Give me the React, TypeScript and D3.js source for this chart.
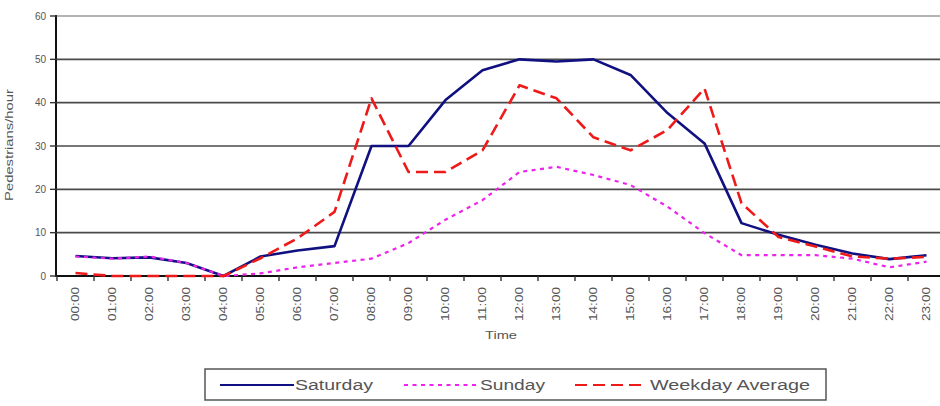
import React from "react";
import * as d3 from "d3";

// Hourly categories
const hours: string[] = [
  "00:00", "01:00", "02:00", "03:00", "04:00", "05:00", "06:00", "07:00",
  "08:00", "09:00", "10:00", "11:00", "12:00", "13:00", "14:00", "15:00",
  "16:00", "17:00", "18:00", "19:00", "20:00", "21:00", "22:00", "23:00",
];

// Pedestrians per hour
const saturday: number[] = [
  4.6, 4.1, 4.3, 3, 0, 4.5, 5.9, 6.9, 30, 30, 40.6, 47.5,
  50, 49.5, 50, 46.4, 37.6, 30.6, 12.2, 9.5, 7.2, 5.2, 3.9, 4.8,
];
const sunday: number[] = [
  4.5, 4, 4.5, 3, 0, 0.6, 2, 3, 4, 7.6, 13, 17.5,
  24, 25.2, 23.3, 21, 16, 9.9, 4.8, 4.8, 4.8, 4, 2, 3.3,
];
const weekdayAverage: number[] = [
  0.7, 0, 0, 0, 0, 4.1, 8.7, 14.8, 41, 24, 24, 29,
  44, 41, 32, 29, 33.7, 43.3, 16.8, 9, 6.8, 4.5, 4, 4.4,
];

const yTicks: number[] = [0, 10, 20, 30, 40, 50, 60];

const seriesNames: string[] = ["Saturday", "Sunday", "Weekday Average"];

const W = 940;
const H = 406;
const plotLeft = 57;
const plotRight = 945;
const plotTop = 16;
const plotBottom = 276;

const font = "'Liberation Sans', Arial, sans-serif";

export default function App() {
  const x = d3.scaleBand<string>().domain(hours).range([plotLeft, plotRight]).padding(0);
  const y = d3.scaleLinear().domain([0, 60]).range([plotBottom, plotTop]);
  const cx = (h: string) => (x(h) as number) + x.bandwidth() / 2;

  const line = d3
    .line<number>()
    .x((_, i) => cx(hours[i]))
    .y((d) => y(d));

  const series = [
    { name: seriesNames[0], values: saturday, color: "#101080", width: 2.6, dash: "none" },
    { name: seriesNames[1], values: sunday, color: "#ee22ee", width: 2.2, dash: "4 4.5" },
    { name: seriesNames[2], values: weekdayAverage, color: "#ee1a1a", width: 2.6, dash: "12 6" },
  ];

  const boundaries = hours.map((h) => x(h) as number).concat([plotRight]);

  const legendItems = [
    { x1: 220, x2: 294, tx: 295, tlen: 78 },
    { x1: 404, x2: 477, tx: 480, tlen: 65 },
    { x1: 575, x2: 646, tx: 650, tlen: 160 },
  ];

  return (
    <svg
      width={W}
      height={H}
      viewBox={`0 0 ${W} ${H}`}
      style={{ position: "absolute", left: 0, top: 0, background: "#fff" }}
    >
      <rect x={0} y={0} width={W} height={H} fill="#fff" />

      {/* gridlines */}
      {yTicks.slice(1, -1).map((t) => (
        <line key={t} x1={plotLeft} x2={W} y1={y(t)} y2={y(t)} stroke="#4a4a4a" strokeWidth={1.6} />
      ))}
      <line x1={plotLeft} x2={W} y1={y(60)} y2={y(60)} stroke="#b4b4b4" strokeWidth={2.2} />

      {/* y axis */}
      <line x1={plotLeft - 1} x2={plotLeft - 1} y1={plotTop - 1} y2={plotBottom + 1} stroke="#111" strokeWidth={2} />
      {yTicks.map((t) => (
        <g key={t}>
          <line x1={plotLeft - 7} x2={plotLeft} y1={y(t)} y2={y(t)} stroke="#333" strokeWidth={1.4} />
          <text
            x={46}
            y={y(t) + 3.5}
            textAnchor="end"
            fontFamily={font}
            fontSize={10}
            fill="#555"
          >
            {t}
          </text>
        </g>
      ))}
      <text
        transform={`translate(13, 145) rotate(-90)`}
        textAnchor="middle"
        fontFamily={font}
        fontSize={10}
        fill="#555"
        textLength={112}
        lengthAdjust="spacingAndGlyphs"
      >
        Pedestrians/hour
      </text>

      {/* x axis */}
      <line x1={plotLeft - 1} x2={W} y1={plotBottom} y2={plotBottom} stroke="#111" strokeWidth={2} />
      {boundaries.map((b, i) => (
        <line key={i} x1={b} x2={b} y1={plotBottom} y2={plotBottom + 5} stroke="#333" strokeWidth={1.4} />
      ))}
      {hours.map((h) => (
        <text
          key={h}
          transform={`translate(${cx(h) + 3.5}, 287) rotate(-90)`}
          textAnchor="end"
          fontFamily={font}
          fontSize={10}
          fill="#555"
          textLength={34}
          lengthAdjust="spacingAndGlyphs"
        >
          {h}
        </text>
      ))}
      <text
        x={(plotLeft + plotRight) / 2}
        y={339}
        textAnchor="middle"
        fontFamily={font}
        fontSize={10}
        fill="#555"
        textLength={32}
        lengthAdjust="spacingAndGlyphs"
      >
        Time
      </text>

      {/* series */}
      {series.map((s) => (
        <path
          key={s.name}
          d={line(s.values) ?? ""}
          fill="none"
          stroke={s.color}
          strokeWidth={s.width}
          strokeDasharray={s.dash}
          strokeLinejoin="round"
        />
      ))}

      {/* legend */}
      <rect x={205} y={369} width={621} height={31} fill="#fff" stroke="#555" strokeWidth={1.5} />
      {series.map((s, i) => {
        const it = legendItems[i];
        return (
          <g key={s.name}>
            <line
              x1={it.x1}
              x2={it.x2}
              y1={385}
              y2={385}
              stroke={s.color}
              strokeWidth={s.width - 0.4}
              strokeDasharray={s.dash}
            />
            <text
              x={it.tx}
              y={390}
              fontFamily={font}
              fontSize={14}
              fill="#555"
              textLength={it.tlen}
              lengthAdjust="spacingAndGlyphs"
            >
              {s.name}
            </text>
          </g>
        );
      })}
    </svg>
  );
}
